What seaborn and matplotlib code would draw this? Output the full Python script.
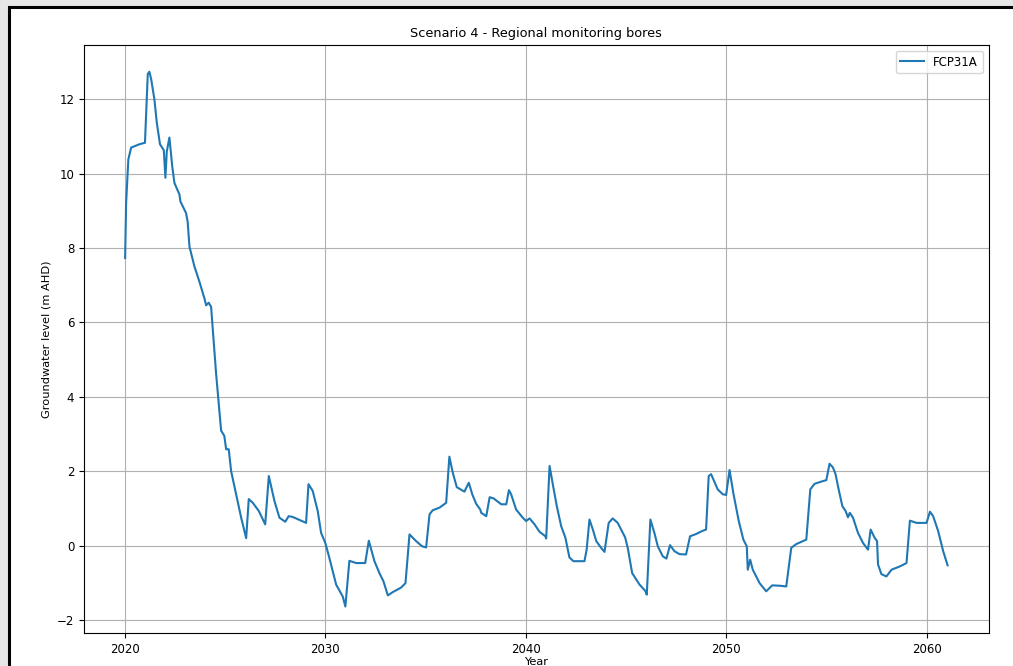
import matplotlib
matplotlib.use("Agg")
import matplotlib.pyplot as plt
import matplotlib.patches as patches
import seaborn as sns

# Groundwater level for bore FCP31A
years = [
    2020.01, 2020.06, 2020.17, 2020.31, 2020.72, 2021.00, 2021.14, 2021.22, 2021.31, 2021.47,
    2021.59, 2021.75, 2021.94, 2022.02, 2022.09, 2022.22, 2022.36, 2022.47, 2022.72, 2022.77,
    2023.05, 2023.13, 2023.22, 2023.47, 2023.72, 2023.97, 2024.05, 2024.18, 2024.30, 2024.55,
    2024.80, 2024.96, 2025.05, 2025.18, 2025.30, 2025.55, 2025.80, 2026.05, 2026.18, 2026.38,
    2026.68, 2027.00, 2027.18, 2027.46, 2027.71, 2028.00, 2028.17, 2028.37, 2029.04, 2029.16,
    2029.37, 2029.62, 2029.79, 2030.00, 2030.20, 2030.54, 2030.87, 2031.00, 2031.20, 2031.54,
    2031.99, 2032.17, 2032.45, 2032.70, 2032.90, 2033.12, 2033.37, 2033.78, 2034.00, 2034.20,
    2034.53, 2034.83, 2035.03, 2035.20, 2035.36, 2035.70, 2036.03, 2036.19, 2036.36, 2036.56,
    2036.94, 2037.16, 2037.33, 2037.53, 2037.73, 2037.78, 2038.03, 2038.20, 2038.39, 2038.78,
    2039.03, 2039.16, 2039.27, 2039.52, 2039.85, 2040.02, 2040.19, 2040.44, 2040.69, 2040.98,
    2041.02, 2041.19, 2041.35, 2041.55, 2041.77, 2041.98, 2042.18, 2042.38, 2042.93, 2043.04,
    2043.18, 2043.35, 2043.52, 2043.76, 2043.93, 2044.14, 2044.34, 2044.59, 2044.96, 2045.09,
    2045.31, 2045.68, 2045.97, 2046.04, 2046.22, 2046.42, 2046.59, 2046.84, 2047.02, 2047.20,
    2047.42, 2047.67, 2048.00, 2048.20, 2048.50, 2048.80, 2049.00, 2049.13, 2049.25, 2049.58,
    2049.83, 2050.00, 2050.17, 2050.37, 2050.63, 2050.86, 2051.03, 2051.08, 2051.20, 2051.33,
    2051.67, 2052.00, 2052.30, 2052.67, 2053.00, 2053.25, 2053.50, 2053.75, 2054.00, 2054.20,
    2054.41, 2054.75, 2055.00, 2055.16, 2055.33, 2055.46, 2055.63, 2055.80, 2055.96, 2056.08,
    2056.17, 2056.33, 2056.58, 2056.83, 2057.08, 2057.21, 2057.41, 2057.53, 2057.58, 2057.75,
    2058.00, 2058.25, 2058.67, 2059.00, 2059.17, 2059.50, 2060.00, 2060.17, 2060.33, 2060.58,
    2060.83, 2061.05,
]
levels = [
    7.73, 9.21, 10.38, 10.70, 10.79, 10.83, 12.68, 12.74, 12.54, 12.00,
    11.37, 10.79, 10.63, 9.89, 10.60, 10.97, 10.20, 9.75, 9.44, 9.25,
    8.94, 8.71, 8.04, 7.50, 7.09, 6.64, 6.46, 6.53, 6.42, 4.62,
    3.09, 2.95, 2.59, 2.59, 2.00, 1.38, 0.75, 0.20, 1.25, 1.15,
    0.93, 0.57, 1.87, 1.20, 0.75, 0.64, 0.79, 0.77, 0.61, 1.65,
    1.47, 0.93, 0.34, 0.07, -0.33, -1.05, -1.37, -1.64, -0.41, -0.47,
    -0.47, 0.13, -0.42, -0.74, -0.96, -1.34, -1.25, -1.13, -1.01, 0.30,
    0.12, -0.02, -0.05, 0.84, 0.95, 1.02, 1.15, 2.39, 1.96, 1.57,
    1.45, 1.69, 1.38, 1.12, 0.97, 0.88, 0.79, 1.30, 1.27, 1.11,
    1.11, 1.49, 1.38, 0.97, 0.75, 0.66, 0.73, 0.57, 0.37, 0.25,
    0.19, 2.14, 1.65, 1.06, 0.52, 0.21, -0.32, -0.42, -0.42, -0.11,
    0.70, 0.43, 0.12, -0.06, -0.17, 0.61, 0.73, 0.61, 0.22, -0.06,
    -0.74, -1.05, -1.22, -1.32, 0.70, 0.34, -0.02, -0.29, -0.35, 0.01,
    -0.15, -0.23, -0.24, 0.25, 0.31, 0.39, 0.43, 1.87, 1.92, 1.51,
    1.38, 1.36, 2.03, 1.38, 0.66, 0.16, -0.02, -0.65, -0.38, -0.65,
    -1.01, -1.23, -1.07, -1.08, -1.10, -0.06, 0.04, 0.10, 0.16, 1.51,
    1.66, 1.72, 1.76, 2.20, 2.10, 1.92, 1.47, 1.06, 0.93, 0.76,
    0.88, 0.75, 0.34, 0.07, -0.11, 0.43, 0.21, 0.12, -0.51, -0.77,
    -0.83, -0.65, -0.56, -0.47, 0.67, 0.61, 0.61, 0.91, 0.79, 0.39,
    -0.15, -0.53,
]
bore_name = "FCP31A"

W, H = 1013, 666
fig = plt.figure(figsize=(W / 100, H / 100), dpi=100)
fig.patch.set_facecolor("#e6e6e6")

# framed figure area (cut off at right and bottom in the reference)
frame = patches.Rectangle((9 / W, -0.1), 1.2, 1.1 - 7 / H, transform=fig.transFigure,
                          facecolor="white", edgecolor="black", linewidth=2.2, zorder=-1)
fig.patches.append(frame)

ax = fig.add_axes([84 / W, 1 - 633.3 / H, (988.7 - 84) / W, (633.3 - 45) / H])
sns.lineplot(x=years, y=levels, ax=ax, color="#1f77b4", linewidth=1.5, label=bore_name)

ax.grid(True, color="#b0b0b0", linewidth=0.8)
ax.set_axisbelow(True)
ax.set_title("Scenario 4 - Regional monitoring bores", fontsize=9.3)
ax.set_xlabel("Year", fontsize=8.2, labelpad=1)
ax.set_ylabel("Groundwater level (m AHD)", fontsize=8.2)
ax.tick_params(labelsize=8.5)
ax.margins(x=0.05, y=0.05)
ax.legend(loc="upper right", fontsize=8.5)

fig.savefig("out.png", dpi=100, facecolor=fig.get_facecolor())
